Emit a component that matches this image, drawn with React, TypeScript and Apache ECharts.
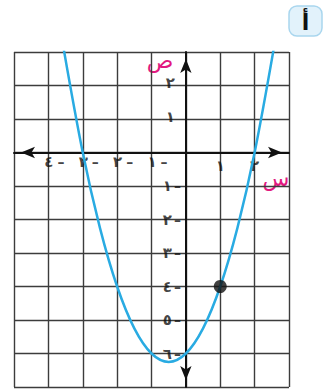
import React, { useEffect, useRef } from "react";
import * as echarts from "echarts";

// ---- data ----
const xMin = -5;
const xMax = 3;
const yMin = -7;
const yMax = 3;
const xTickValues = [-4, -3, -2, -1, 1, 2];
const xTickDigits = ["٤", "٣", "٢", "١", "١", "٢"];
const yTickValues = [2, 1, -1, -2, -3, -4, -5, -6];
const yTickDigits = ["٢", "١", "١", "٢", "٣", "٤", "٥", "٦"];
const minusSign = "–";
const curveX = [-3.6, -3, -2.5, -2, -1.5, -1, -0.5, 0, 0.5, 1, 1.5, 2, 2.6];
const curveY = [3.36, 0, -2.25, -4, -5.25, -6, -6.25, -6, -5.25, -4, -2.25, 0, 3.36];
const pointX = [1];
const pointY = [-4];
const xAxisName = "س";
const yAxisName = "ص";
const badgeText = "أ";

const FONT = "DejaVu Sans";
const PINK = "#e2197f";
const BLUE = "#29abe2";
const INK = "#111";

export default function App() {
  const ref = useRef<HTMLDivElement>(null);
  useEffect(() => {
    document.body.style.margin = "0";
    const chart = echarts.init(ref.current!, undefined, { renderer: "svg" });
    const tok = { fontFamily: FONT, fontWeight: "bold", fontSize: 15, color: INK };
    const dash = { fontFamily: FONT, fontWeight: "bold", fontSize: 14, color: INK };
    const arrowLine = {
      onZero: true,
      symbol: ["arrow", "arrow"],
      symbolSize: [8.5, 14],
      symbolOffset: [7, -7],
      lineStyle: { color: INK, width: 2 },
    };
    const split = { show: true, lineStyle: { color: "#3c3c3c", width: 1.4 } };
    chart.setOption({
      animation: false,
      grid: { left: 14, top: 52, width: 275, height: 335, containLabel: false },
      xAxis: {
        type: "value",
        min: xMin,
        max: xMax,
        interval: 1,
        axisLine: arrowLine,
        axisTick: { show: false },
        axisLabel: { show: false },
        splitLine: split,
      },
      yAxis: {
        type: "value",
        min: yMin,
        max: yMax,
        interval: 1,
        axisLine: arrowLine,
        axisTick: { show: false },
        axisLabel: { show: false },
        splitLine: split,
      },
      series: [
        {
          type: "line",
          data: curveX.map((x, i) => [x, curveY[i]]),
          smooth: 0.35,
          showSymbol: false,
          clip: true,
          lineStyle: { color: BLUE, width: 2.5 },
          z: 3,
        },
        {
          type: "scatter",
          data: pointX.map((x, i) => [x, pointY[i]]),
          symbolSize: 13,
          itemStyle: { color: INK },
          z: 4,
        },
        {
          type: "scatter",
          silent: true,
          symbolSize: 0,
          data: xTickValues.map((v) => [v, 0]),
          label: {
            show: true,
            position: "bottom",
            distance: 2,
            formatter: (p: any) => {
              const i = p.dataIndex;
              return xTickValues[i] < 0 ? `{n|${xTickDigits[i]}}{d|${minusSign}}` : `{p|${xTickDigits[i]}}`;
            },
            rich: {
              n: { ...tok, padding: [0, 0, 0, 12] },
              d: { ...dash, padding: [0, 0, 0, 4] },
              p: { ...tok, padding: [4, 0, 0, 0] },
            },
          },
          z: 2,
        },
        {
          type: "scatter",
          silent: true,
          symbolSize: 0,
          data: yTickValues.map((v) => [0, v]),
          label: {
            show: true,
            position: "left",
            distance: 5,
            formatter: (p: any) => {
              const i = p.dataIndex;
              return yTickValues[i] < 0 ? `{n|${yTickDigits[i]}}{d|${minusSign}}` : `{p|${yTickDigits[i]}}`;
            },
            rich: {
              n: { ...tok },
              d: { ...dash, padding: [0, 0, 0, 2] },
              p: { ...tok, padding: [0, 6, 5, 0] },
            },
          },
          z: 2,
        },
      ],
      graphic: [
        {
          type: "rect",
          shape: { x: 289, y: 6, width: 33, height: 30, r: 8 },
          style: { fill: "#e2f2fb", stroke: "#a9d6ee", lineWidth: 1.5 },
        },
        {
          type: "text",
          x: 305.5,
          y: 22,
          style: { text: badgeText, font: `bold 22px '${FONT}'`, fill: INK, align: "center", verticalAlign: "middle" },
        },
        {
          type: "text",
          x: 160,
          y: 60,
          style: { text: yAxisName, font: `22px '${FONT}'`, fill: PINK, align: "center", verticalAlign: "middle" },
        },
        {
          type: "text",
          x: 276,
          y: 178,
          style: { text: xAxisName, font: `22px '${FONT}'`, fill: PINK, align: "center", verticalAlign: "middle" },
        },
      ],
    });
    return () => chart.dispose();
  }, []);
  return <div ref={ref} style={{ position: "absolute", left: 0, top: 0, width: 330, height: 390 }} />;
}
